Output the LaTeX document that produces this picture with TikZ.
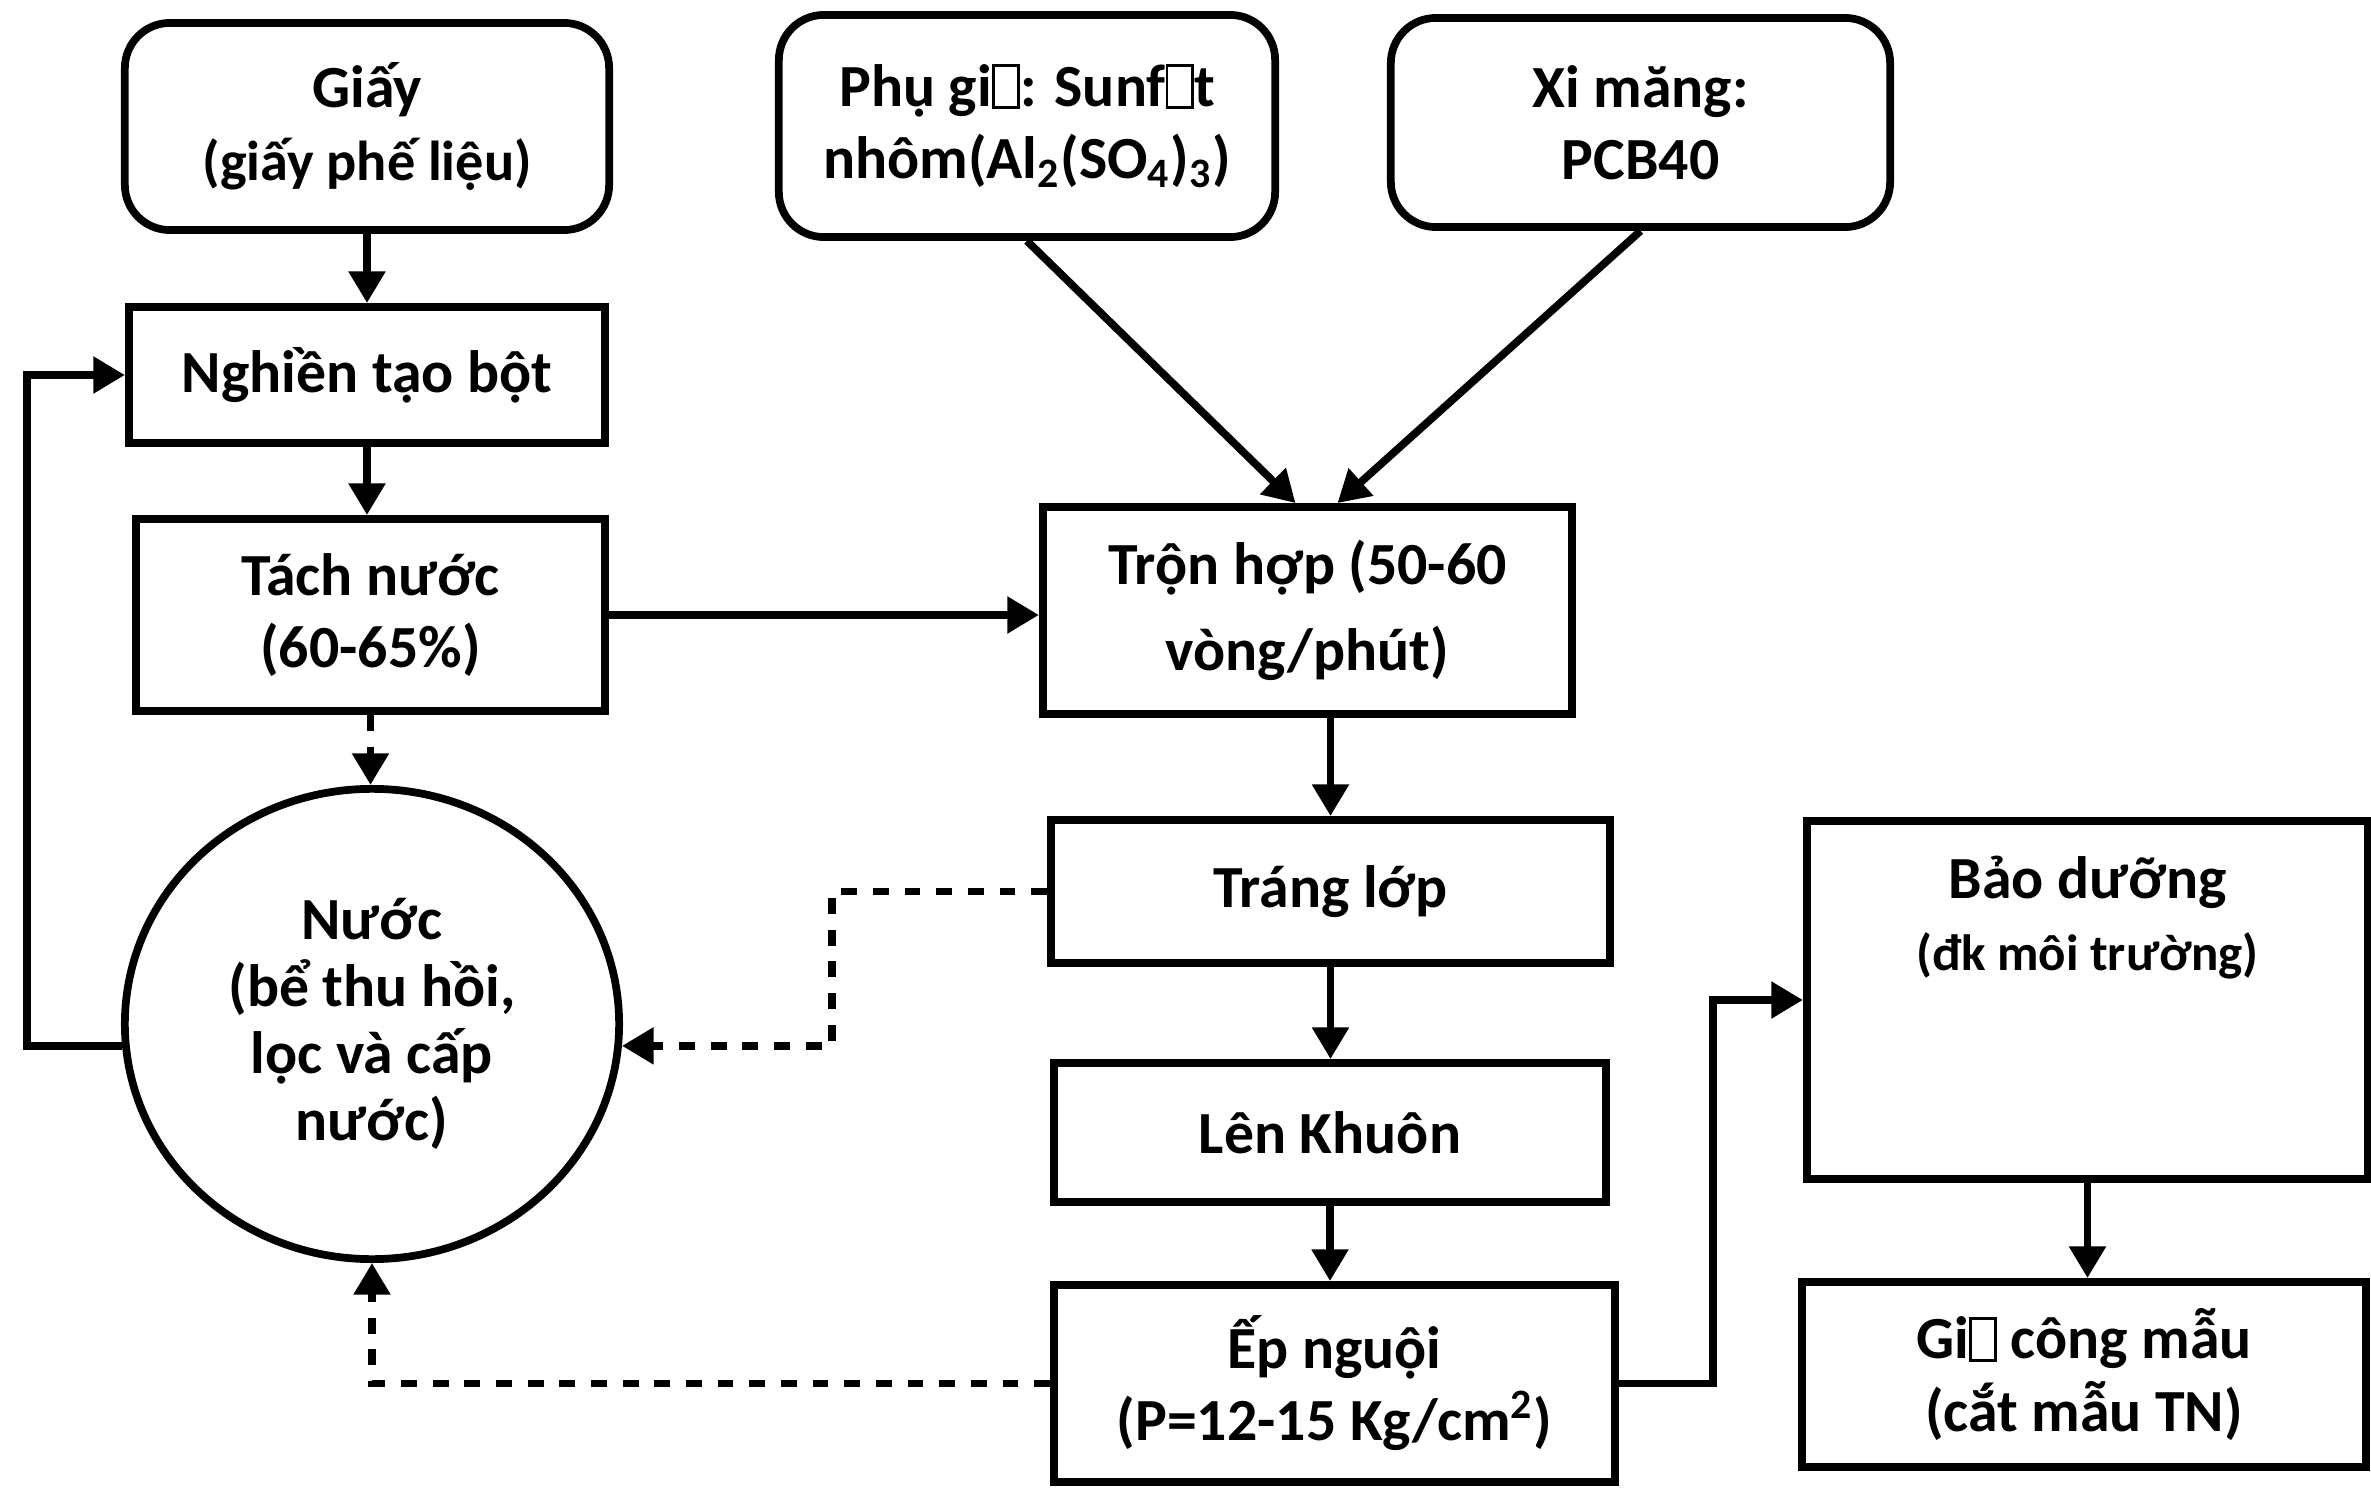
\documentclass[tikz,border=0pt]{standalone}
\usepackage{fontspec}
\setmainfont{Carlito}
\usetikzlibrary{arrows.meta,shapes.geometric,calc}
\newcommand\missglyph{{\setlength\fboxsep{0pt}\setlength\fboxrule{0.8pt}\fbox{\rule{0pt}{0.66em}\hspace{0.38em}}}}
\begin{document}
\begin{tikzpicture}[x=0.01cm,y=-0.01cm,
  box/.style={draw, line width=2.2pt, align=center, inner sep=2pt,
    font=\bfseries\fontsize{17}{20.5}\selectfont},
  rbox/.style={box, rounded corners=0.45cm},
  arr/.style={line width=2.2pt, -{Triangle[length=9pt,width=10pt]}},
  darr/.style={arr, dash pattern=on 4.5pt off 4.5pt}]
\useasboundingbox (0,0) rectangle (2371,1491);

% top inputs
\node[rbox, minimum width=4.84cm, minimum height=2.07cm] (giay) at (367,126.5)
  {Giấy\\{\fontsize{16}{18}\selectfont (giấy phế liệu)}};
\node[rbox, minimum width=4.96cm, minimum height=2.22cm] (phu) at (1027,126)
  {Phụ gi\missglyph: Sunf\missglyph t\\nhôm(Al\textsubscript{2}(SO\textsubscript{4})\textsubscript{3})};
\node[rbox, minimum width=4.99cm, minimum height=2.09cm] (xi) at (1640.5,122.5)
  {Xi măng:\\PCB40};

% left column
\node[box, minimum width=4.76cm, minimum height=1.36cm] (nghien) at (367,375) {Nghiền tạo bột};
\node[box, minimum width=4.69cm, minimum height=1.92cm] (tach) at (370.5,615) {Tách nước\\(60-65\%)};
\node[draw, ellipse, line width=2.2pt, minimum width=4.94cm, minimum height=4.7cm, inner sep=0pt,
  align=center, font=\bfseries\fontsize{17}{19}\selectfont] (nuoc) at (372,1024)
  {Nước\\(bể thu hồi,\\lọc và cấp\\nước)};

% middle column
\node[box, minimum width=5.29cm, minimum height=2.07cm] (tron) at (1307.5,610.5)
  {Trộn hợp (50-60\\[4pt]vòng/phút)};
\node[box, minimum width=5.59cm, minimum height=1.43cm] (trang) at (1330.5,891.5) {Tráng lớp};
\node[box, minimum width=5.52cm, minimum height=1.39cm] (len) at (1330,1132.5) {Lên Khuôn};
\node[box, minimum width=5.61cm, minimum height=1.97cm] (ep) at (1334.5,1383.5)
  {Ếp nguội\\(P=12-15 Kg/cm\textsuperscript{2})};

% right column
\node[box, minimum width=5.61cm, minimum height=3.58cm] (bao) at (2087.5,1000) {};
\node[align=center, font=\bfseries\fontsize{17}{20.5}\selectfont] (baotext) at (2087.5,918)
  {Bảo dưỡng\\{\fontsize{14.5}{17}\selectfont (đk môi trường)}};
\node[box, minimum width=5.64cm, minimum height=1.85cm] (gia) at (2084,1374.5)
  {Gi\missglyph\ công mẫu\\(cắt mẫu TN)};

% helper coordinates
\coordinate (lb) at (27,0);
\coordinate (dx) at (832,0);
\coordinate (rx) at (1713,0);

% connectors
\draw[arr] (giay.south) -- (nghien.north);
\draw[arr] (nghien.south) -- (nghien.south |- tach.north);
\draw[darr] (tach.south) -- (tach.south |- nuoc.north);
\draw[arr] (nuoc.185) -- (nuoc.185 -| lb) |- (nghien.west);
\draw[arr] (tach.east) -- (tach.east -| tron.west);
\draw[arr] (phu.south) -- ($(tron.north)+(-12,0)$);
\draw[arr] (xi.south) -- ($(tron.north)+(30,0)$);
\draw[arr] (tron.south -| trang.north) -- (trang.north);
\draw[arr] (trang.south) -- (trang.south |- len.north);
\draw[arr] (len.south) -- (len.south |- ep.north);
\draw[darr] (trang.west) -- (trang.west -| dx) |- (nuoc.-5);
\draw[darr] (ep.west) -| (nuoc.south);
\draw[arr] (ep.east) -- (ep.east -| rx) |- (bao.west);
\draw[arr] (bao.south) -- (bao.south |- gia.north);
\end{tikzpicture}
\end{document}
